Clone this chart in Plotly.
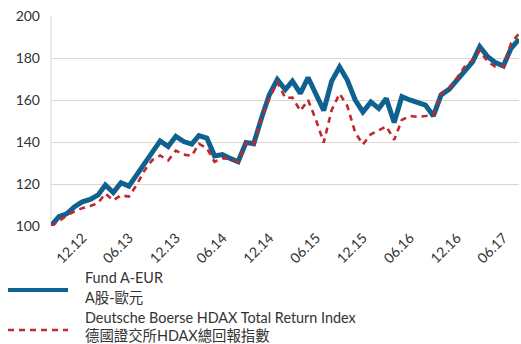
import pandas as pd
import plotly.graph_objects as go

# Monthly index values, rebased to 100 at the start
dates = pd.date_range("2012-07-31", periods=61, freq="ME")

fund_a_eur = [
    100.0, 104.5, 105.8, 109.2, 111.5, 112.7, 114.8, 119.5, 115.9, 120.6,
    119.0, 124.3, 129.8, 135.2, 140.5, 137.8, 142.7, 140.2, 139.0, 143.0,
    141.9, 133.4, 134.0, 132.2, 130.6, 139.8, 139.2, 151.7, 162.5, 169.7,
    165.0, 169.0, 163.2, 170.7, 162.0, 155.0, 169.0, 175.7, 169.5, 160.0,
    154.3, 159.0, 156.0, 160.7, 149.3, 161.6, 160.0, 158.7, 157.6, 152.4,
    162.4, 165.1, 169.5, 174.0, 178.2, 185.4, 180.6, 177.8, 176.2, 184.6,
    188.9,
]

hdax_tr = [
    100.0, 102.3, 105.0, 107.0, 108.5, 109.5, 111.0, 115.5, 112.2, 114.6,
    114.0, 119.5, 126.5, 131.5, 133.6, 131.2, 135.9, 134.0, 133.4, 139.2,
    137.0, 130.6, 132.2, 132.0, 130.8, 139.4, 138.6, 151.6, 160.8, 168.5,
    161.0, 161.2, 154.8, 160.0, 150.5, 139.7, 155.2, 163.0, 157.2, 144.5,
    138.8, 143.7, 145.5, 147.5, 141.0, 150.5, 152.4, 152.0, 152.4, 152.9,
    163.2, 165.6, 170.3, 175.9, 179.0, 183.5, 178.2, 175.9, 175.9, 187.0,
    191.7,
]

tick_dates = ["2012-12-01", "2013-06-01", "2013-12-01", "2014-06-01", "2014-12-01",
              "2015-06-01", "2015-12-01", "2016-06-01", "2016-12-01", "2017-06-01"]
tick_labels = ["12.12", "06.13", "12.13", "06.14", "12.14",
               "06.15", "12.15", "06.16", "12.16", "06.17"]
y_ticks = [100, 120, 140, 160, 180, 200]

fund_name = ["Fund A-EUR", "A股-歐元"]
index_name = ["Deutsche Boerse HDAX Total Return Index", "德國證交所HDAX總回報指數"]

BLUE = "#0f6190"
RED = "#c0282d"
GRID = "#dbd6d0"
TEXT = "#333333"
FONT = "Lato, 'Noto Sans CJK TC', sans-serif"

fig = go.Figure()
fig.add_trace(go.Scatter(x=dates, y=fund_a_eur, mode="lines",
                         line=dict(color=BLUE, width=5), name=" ".join(fund_name),
                         showlegend=False))
fig.add_trace(go.Scatter(x=dates, y=hdax_tr, mode="lines",
                         line=dict(color=RED, width=2.6, dash="6px,5px"),
                         name=" ".join(index_name), showlegend=False))

# Plot area geometry in pixels, used for the hand-built legend below
L, R, T, B = 51, 2, 16, 118
W, H = 521, 344
pw, ph = W - L - R, H - T - B


def px(x):
    return (x - L) / pw


def py(y):
    return (H - B - y) / ph


shapes = [
    dict(type="line", xref="paper", yref="paper", x0=px(8), x1=px(68),
         y0=py(290), y1=py(290), line=dict(color=BLUE, width=4)),
    dict(type="line", xref="paper", yref="paper", x0=px(8), x1=px(68),
         y0=py(330), y1=py(330), line=dict(color=RED, width=2.6, dash="6px,5px")),
]

annotations = []
for text, yy in zip(fund_name + index_name, [277.5, 297.5, 317.5, 335.5]):
    annotations.append(dict(text=text, xref="paper", yref="paper", x=px(83), y=py(yy),
                            xanchor="left", yanchor="middle", showarrow=False,
                            font=dict(family=FONT, size=14.4, color=TEXT)))

fig.update_layout(
    width=W, height=H,
    margin=dict(l=L, r=R, t=T, b=B, pad=0),
    paper_bgcolor="white", plot_bgcolor="white",
    font=dict(family=FONT, color=TEXT),
    shapes=shapes, annotations=annotations,
    xaxis=dict(range=[dates[0], dates[-1]], tickvals=tick_dates, ticktext=tick_labels,
               tickangle=-45, tickfont=dict(size=14, color=TEXT), showgrid=False,
               zeroline=False, showline=False, ticks=""),
    yaxis=dict(range=[100, 200], tickvals=y_ticks, tickfont=dict(size=14, color=TEXT),
               showgrid=True, gridcolor=GRID, gridwidth=1, zeroline=False,
               showline=False, ticks="", ticklabelstandoff=10),
)
# light vertical axis line on the left edge of the plot
fig.add_shape(type="line", xref="paper", yref="paper", x0=0, x1=0, y0=0, y1=1,
              line=dict(color=GRID, width=1), layer="below")

fig.write_html("out.html")
